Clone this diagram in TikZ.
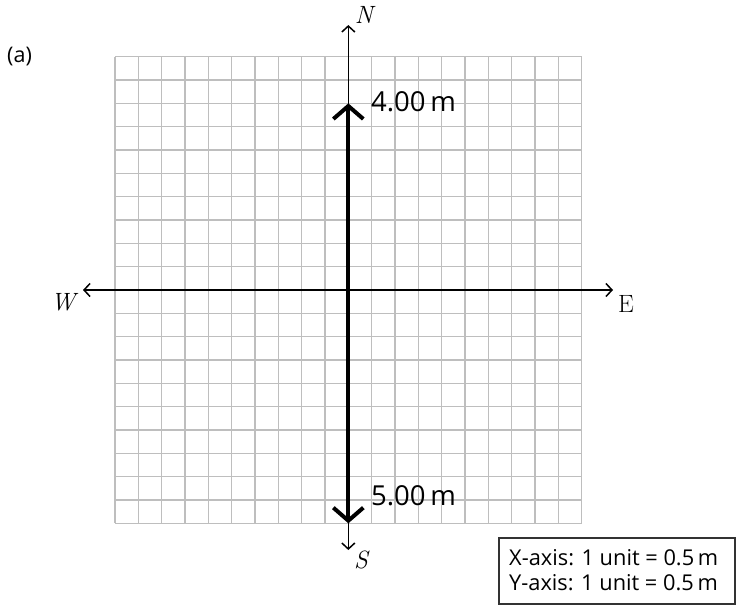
\documentclass[tikz,border=0pt]{standalone}
\usepackage{fontspec}
\newfontfamily\labsans{Open Sans}
\usetikzlibrary{arrows.meta}
\tikzset{
  gridline/.style={draw={rgb,255:red,190;green,190;blue,190}, line width=1.3pt},
  axisline/.style={draw=black, line width=1.5pt, -{Straight Barb[length=6pt,width=13pt,line width=1.5pt]}},
  vecline/.style={draw=black, line width=4pt, -{Straight Barb[length=13pt,width=30pt,line width=4pt]}},
  dirlabel/.style={inner sep=0pt, font=\fontsize{25}{29}\selectfont},
  sanslabel/.style={inner sep=0pt, anchor=base west, font=\labsans\fontsize{27.5}{32}\selectfont},
  keytext/.style={inner sep=0pt, anchor=base west, font=\labsans\fontsize{21.8}{26}\selectfont},
  keybox/.style={draw={rgb,255:red,50;green,50;blue,50}, line width=1.2pt}
}
\begin{document}
\begin{tikzpicture}[x=1pt,y=-1pt]
\useasboundingbox (0,0) rectangle (737,608);
% grid
\foreach \i in {0,...,20}{
  \draw[gridline] ({115+\i*23.333},56.67) -- ({115+\i*23.333},523.33);
  \draw[gridline] (115,{56.67+\i*23.333}) -- (581.67,{56.67+\i*23.333});
}
\coordinate (O) at (348.33,290);
\coordinate (Ntip) at (348.33,25);
\coordinate (Stip) at (348.33,550);
\coordinate (Wtip) at (83,290);
\coordinate (Etip) at (613,290);
\coordinate (top4) at (348.33,103.33);
\coordinate (bot5) at (348.33,523.33);
% axes
\draw[axisline] (O) -- (Ntip);
\draw[axisline] (O) -- (Stip);
\draw[axisline] (O) -- (Wtip);
\draw[axisline] (O) -- (Etip);
% vectors
\draw[vecline] (O) -- (top4);
\draw[vecline] (O) -- (bot5);
% direction labels
\node[dirlabel] (N) at (364,15) {\itshape N};
\node[dirlabel] (S) at (361,560) {\itshape S};
\node[dirlabel] (W) at (63,302) {\itshape W};
\node[dirlabel] (E) at (626,304) {E};
% magnitude labels
\node[sanslabel] (m4) at (371,111) {4.00\,m};
\node[sanslabel] (m5) at (371,505) {5.00\,m};
\node[sanslabel, font=\labsans\fontsize{21.5}{25}\selectfont] (a) at (7,62) {(a)};
% key
\draw[keybox] (499,538) rectangle (735,604);
\node[keytext] (kx) at (509,565) {X-axis: 1 unit = 0.5\,m};
\node[keytext] (ky) at (509,590) {Y-axis: 1 unit = 0.5\,m};
\end{tikzpicture}
\end{document}
